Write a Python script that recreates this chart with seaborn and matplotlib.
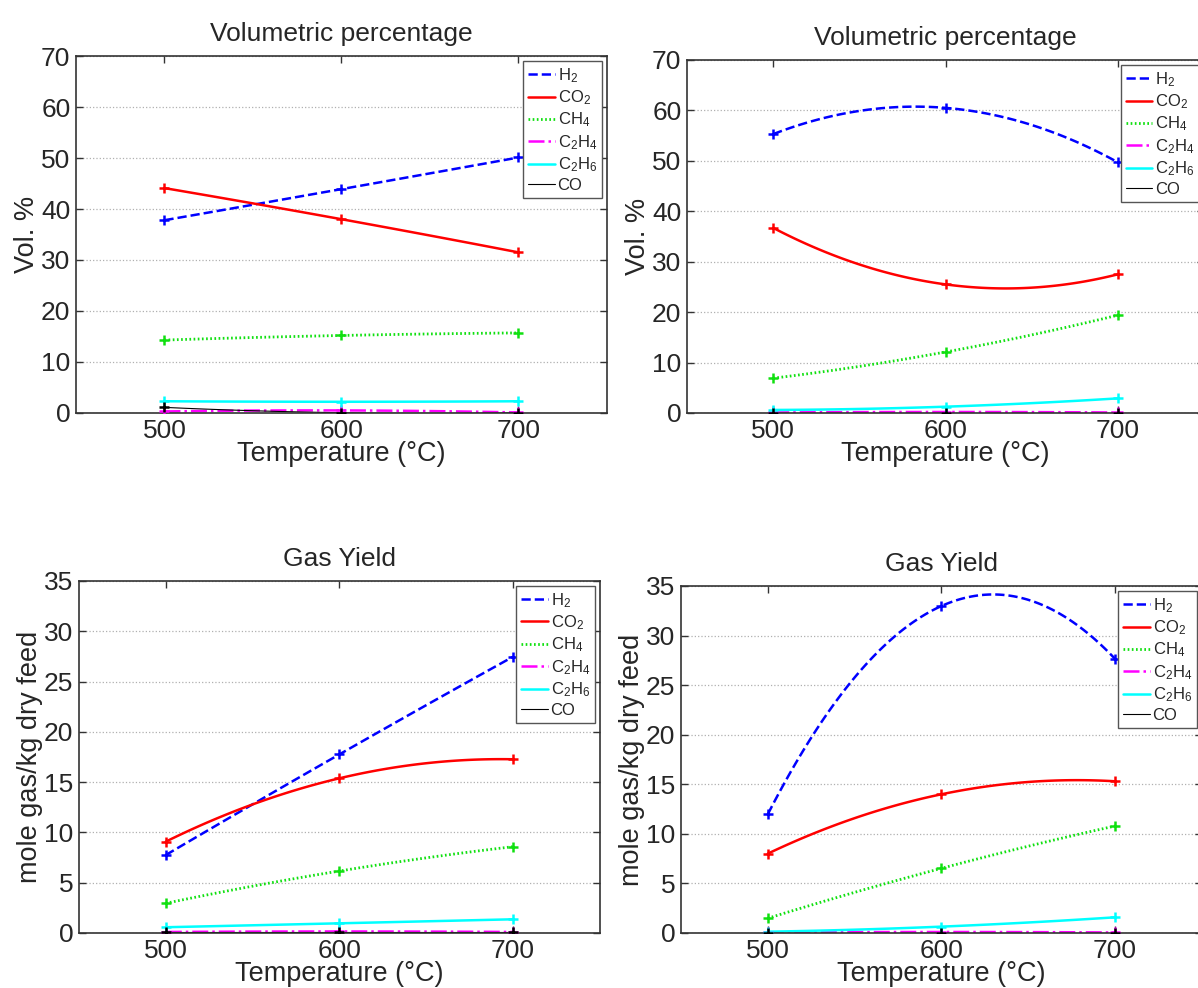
import matplotlib
matplotlib.use('Agg')
import matplotlib.pyplot as plt
import seaborn as sns

# measured points (temperature in degC)
temps = [500, 600, 700]
gases = ['H$_2$', 'CO$_2$', 'CH$_4$', 'C$_2$H$_4$', 'C$_2$H$_6$', 'CO']

# rows follow the order of gases
vol_left = [
    [37.8, 43.9, 50.1],
    [44.1, 38.0, 31.5],
    [14.3, 15.2, 15.7],
    [0.3, 0.5, 0.1],
    [2.3, 2.2, 2.3],
    [1.1, 0.05, 0.05],
]
vol_right = [
    [55.3, 60.5, 49.7],
    [36.7, 25.5, 27.5],
    [6.9, 12.1, 19.4],
    [0.1, 0.2, 0.1],
    [0.6, 1.25, 2.9],
    [0.0, 0.0, 0.0],
]
yield_left = [
    [7.75, 17.76, 27.47],
    [9.08, 15.38, 17.27],
    [2.95, 6.16, 8.58],
    [0.1, 0.15, 0.1],
    [0.57, 0.96, 1.36],
    [0.05, 0.05, 0.05],
]
yield_right = [
    [11.97, 32.98, 27.64],
    [8.0, 13.99, 15.3],
    [1.48, 6.52, 10.79],
    [0.05, 0.1, 0.05],
    [0.13, 0.64, 1.58],
    [0.0, 0.0, 0.0],
]

colors = ['#0000ff', '#ff0000', '#10e010', '#ff00ff', '#00ffff', '#000000']
styles = ['--', '-', (0, (0.6, 0.9)), '-.', '-', '-']
widths = [1.8, 1.8, 2.0, 1.8, 1.8, 0.8]

sns.set_style('ticks')
plt.rcParams['font.family'] = ['Liberation Sans', 'DejaVu Sans']
plt.rcParams['mathtext.default'] = 'regular'


def draw_panel(ax, rows, title, ylabel, ymax, ystep):
    for vals, name, c, ls, lw in zip(rows, gases, colors, styles, widths):
        sns.regplot(x=temps, y=vals, order=2, ci=None, truncate=True,
                    marker='+', color=c, ax=ax,
                    scatter_kws={'s': 60, 'linewidths': 1.8, 'alpha': 1, 'zorder': 3},
                    line_kws={'ls': ls, 'lw': lw, 'label': name, 'alpha': 1})
    ax.set_xlim(450, 750)
    ax.set_ylim(0, ymax)
    ax.set_xticks(temps)
    ax.set_yticks(range(0, ymax + 1, ystep))
    ax.set_title(title, fontsize=19, pad=11)
    ax.set_xlabel('Temperature (°C)', fontsize=19.5, labelpad=-1)
    ax.set_ylabel(ylabel, fontsize=19.5, labelpad=1)
    ax.tick_params(direction='in', top=True, right=True, labelsize=19,
                   length=5, width=1, color='#333333', pad=4)
    ax.yaxis.grid(True, ls=':', color='#b0b0b0', lw=0.9)
    ax.xaxis.grid(False)
    ax.set_axisbelow(True)
    for sp in ax.spines.values():
        sp.set_visible(True)
        sp.set_color('#333333')
        sp.set_linewidth(1.2)
    leg = ax.legend(loc='upper right', fontsize=12, fancybox=False, frameon=True,
                    edgecolor='#555555', framealpha=1, borderaxespad=0.3,
                    handlelength=1.6, handletextpad=0.15, labelspacing=0.22,
                    borderpad=0.3)
    leg.get_frame().set_linewidth(1.0)


fig = plt.figure(figsize=(11.98, 9.88), dpi=100)
ax1 = fig.add_axes([0.0634, 0.582, 0.4432, 0.3613])
ax2 = fig.add_axes([0.5735, 0.582, 0.4316, 0.3573])
ax3 = fig.add_axes([0.0659, 0.0557, 0.4349, 0.3563])
ax4 = fig.add_axes([0.5684, 0.0557, 0.4349, 0.3512])

draw_panel(ax1, vol_left, 'Volumetric percentage', 'Vol. %', 70, 10)
draw_panel(ax2, vol_right, 'Volumetric percentage', 'Vol. %', 70, 10)
draw_panel(ax3, yield_left, 'Gas Yield', 'mole gas/kg dry feed', 35, 5)
draw_panel(ax4, yield_right, 'Gas Yield', 'mole gas/kg dry feed', 35, 5)

fig.savefig('out.png', dpi=100, facecolor='white')
